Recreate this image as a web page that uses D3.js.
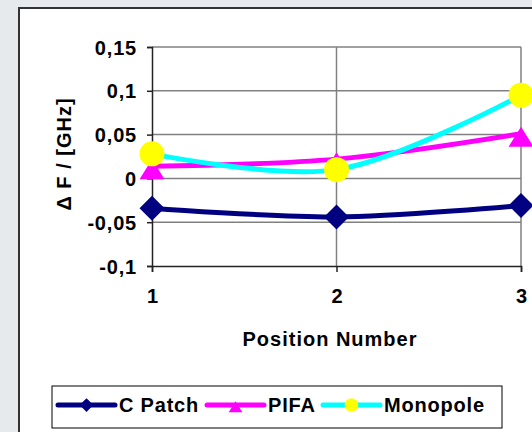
<!DOCTYPE html>
<html>
<head>
<meta charset="utf-8">
<script src="https://cdn.jsdelivr.net/npm/d3@7"></script>
<style>
  body { margin: 0; background: #e6eaec; }
  svg { display: block; font-family: Arial, "Liberation Sans", sans-serif; font-weight: bold; }
</style>
</head>
<body>
<svg id="chart" width="532" height="432"></svg>
<script>
// chart values
const positions = [1, 2, 3];
const seriesNames = ['C Patch', 'PIFA', 'Monopole'];
const cPatch = [-0.034, -0.044, -0.031];
const pifa = [0.014, 0.022, 0.051];
const monopole = [0.028, 0.010, 0.095];
const yTicks = [-0.1, -0.05, 0, 0.05, 0.1, 0.15];

const lineColors = ['#000080', '#ff00ff', '#00ffff'];
const markerColors = ['#000080', '#ff00ff', '#ffff00'];
const markerTypes = ['diamond', 'triangle', 'circle'];

const svg = d3.select('#chart');

// outer chart frame
svg.append('rect')
  .attr('x', 19).attr('y', 8)
  .attr('width', 540).attr('height', 440)
  .attr('fill', '#fff')
  .attr('stroke', '#333')
  .attr('stroke-width', 2);

const plotLeft = 152, plotRight = 521, plotTop = 47, plotBottom = 266;

const x = d3.scaleLinear().domain([1, 3]).range([plotLeft, plotRight]);
const y = d3.scaleLinear().domain([-0.1, 0.15]).range([plotBottom, plotTop]);

const fmt = (d) => (d === 0 ? '0' : String(+d.toFixed(2)).replace('.', ','));

// horizontal gridlines
svg.append('g')
  .selectAll('line')
  .data(yTicks.filter((d) => d > -0.1))
  .enter()
  .append('line')
  .attr('x1', plotLeft).attr('x2', plotRight)
  .attr('y1', (d) => y(d)).attr('y2', (d) => y(d))
  .attr('stroke', '#808080')
  .attr('stroke-width', 1.5);

// vertical gridlines
svg.append('g')
  .selectAll('line')
  .data(positions.slice(1))
  .enter()
  .append('line')
  .attr('x1', (d) => x(d)).attr('x2', (d) => x(d))
  .attr('y1', plotTop).attr('y2', plotBottom)
  .attr('stroke', '#808080')
  .attr('stroke-width', 1.5);

// y axis
const yAxis = svg.append('g')
  .attr('transform', 'translate(' + plotLeft + ',0)')
  .call(d3.axisLeft(y).tickValues(yTicks).tickSize(5).tickPadding(10).tickFormat(fmt));
yAxis.select('.domain').attr('stroke', '#222').attr('stroke-width', 1.5);
yAxis.selectAll('.tick line').attr('stroke', '#222').attr('stroke-width', 1.5);
yAxis.selectAll('text')
  .attr('font-size', 20).attr('font-weight', 'bold')
  .attr('letter-spacing', 0.8).attr('fill', '#000')
  .attr('dy', '0.35em');

// x axis
const xAxis = svg.append('g')
  .attr('transform', 'translate(0,' + plotBottom + ')')
  .call(d3.axisBottom(x).tickValues(positions).tickSize(6).tickPadding(10).tickFormat(d3.format('d')));
xAxis.select('.domain').attr('stroke', '#222').attr('stroke-width', 1.5);
xAxis.selectAll('.tick line').attr('stroke', '#222').attr('stroke-width', 1.5);
xAxis.selectAll('text')
  .attr('font-size', 20).attr('font-weight', 'bold').attr('fill', '#000')
  .attr('dy', '1.05em');

// axis titles
svg.append('text')
  .attr('x', 330).attr('y', 346)
  .attr('text-anchor', 'middle')
  .attr('font-size', 20).attr('letter-spacing', 1)
  .text('Position Number');

svg.append('text')
  .attr('transform', 'translate(71,154) rotate(-90)')
  .attr('text-anchor', 'middle')
  .attr('font-size', 20).attr('letter-spacing', 1)
  .text('Δ F / [GHz]');

// markers
function drawMarker(g, type, color) {
  if (type === 'diamond') {
    g.append('path').attr('d', 'M0,-12.5L12.5,0L0,12.5L-12.5,0Z').attr('fill', color);
  } else if (type === 'triangle') {
    g.append('path').attr('d', 'M0,-7L12.5,13L-12.5,13Z').attr('fill', color);
  } else {
    g.append('circle').attr('r', 12.5).attr('fill', color);
  }
}

const series = [cPatch, pifa, monopole];
const line = d3.line()
  .x((d, i) => x(positions[i]))
  .y((d) => y(d))
  .curve(d3.curveCatmullRom.alpha(0.5));

series.forEach((vals, s) => {
  svg.append('path')
    .datum(vals)
    .attr('d', line)
    .attr('fill', 'none')
    .attr('stroke', lineColors[s])
    .attr('stroke-width', 5);
});

series.forEach((vals, s) => {
  vals.forEach((v, i) => {
    const g = svg.append('g').attr('transform', 'translate(' + x(positions[i]) + ',' + y(v) + ')');
    drawMarker(g, markerTypes[s], markerColors[s]);
  });
});

// legend
svg.append('rect')
  .attr('x', 52).attr('y', 386)
  .attr('width', 450).attr('height', 42)
  .attr('fill', '#fff')
  .attr('stroke', '#000')
  .attr('stroke-width', 1);

const legendX = [58, 207, 323];
seriesNames.forEach((name, s) => {
  const g = svg.append('g').attr('transform', 'translate(' + legendX[s] + ',405)');
  g.append('line')
    .attr('x1', 0).attr('x2', 57)
    .attr('stroke', lineColors[s])
    .attr('stroke-width', 5)
    .attr('stroke-linecap', 'round');
  const m = g.append('g').attr('transform', 'translate(28.5,0) scale(0.55)');
  drawMarker(m, markerTypes[s], markerColors[s]);
  g.append('text')
    .attr('x', 61).attr('y', 7)
    .attr('font-size', 20).attr('letter-spacing', 0.8)
    .text(name);
});
</script>
</body>
</html>
